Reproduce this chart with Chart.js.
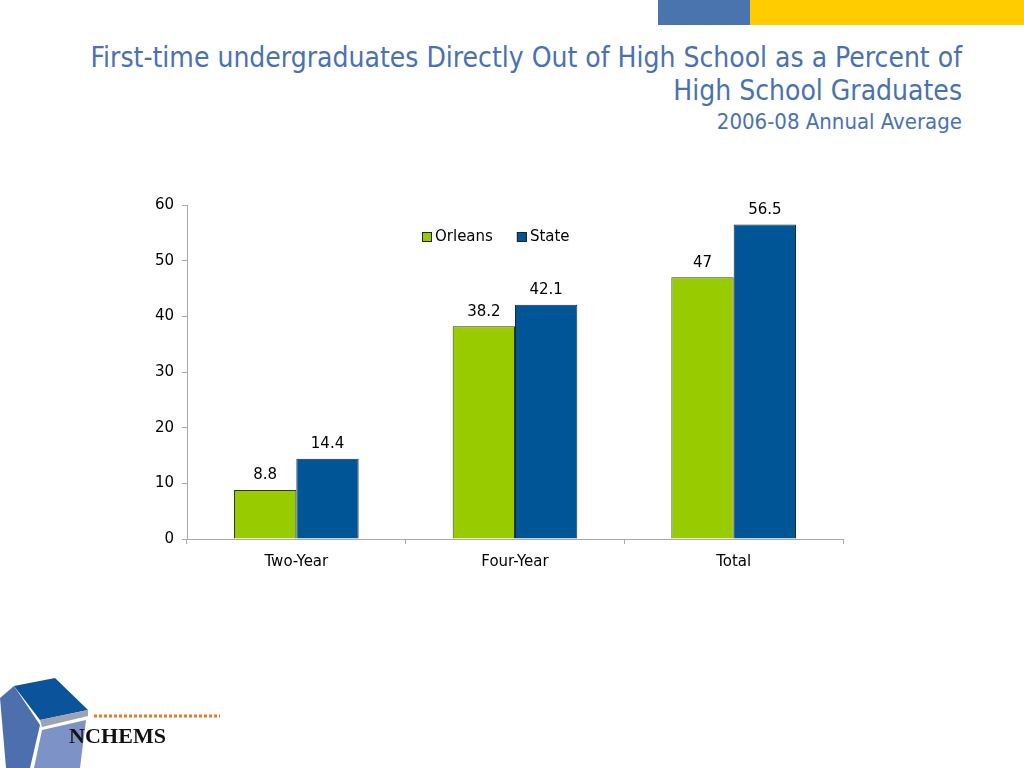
<!DOCTYPE html>
<html>
<head>
<meta charset="utf-8">
<script src="https://cdn.jsdelivr.net/npm/chart.js@4"></script>
<style>
    body { margin: 0; width: 1024px; height: 768px; background: #fff; position: relative; overflow: hidden; font-family: 'DejaVu Sans Condensed', 'DejaVu Sans', sans-serif; }
    .band-blue { position: absolute; left: 658px; top: 0; width: 92px; height: 25px; background: #4a74ae; }
    .band-yellow { position: absolute; left: 750px; top: 0; width: 274px; height: 25px; background: #ffcc00; }
    .title { position: absolute; right: 62px; top: 41px; text-align: right; color: #4a72b0; font-size: 28px; line-height: 33px; white-space: nowrap; }
    .subtitle { position: absolute; right: 62px; top: 109px; color: #4a72b0; font-size: 22px; white-space: nowrap; }
    #wrap { position: absolute; left: 0; top: 0; width: 1024px; height: 768px; }
    .logo { position: absolute; left: 0; top: 670px; }
</style>
</head>
<body>
<div class="band-blue"></div>
<div class="band-yellow"></div>
<div class="title">First-time undergraduates Directly Out of High School as a Percent of<br>High School Graduates</div>
<div class="subtitle">2006-08 Annual Average</div>
<div id="wrap"><canvas id="chart"></canvas></div>
<svg class="logo" width="240" height="98" viewBox="0 0 240 98">
    <polygon points="14,16 55,8 88,40 40,50" fill="#0b539a"/>
    <polygon points="40,50 88,40 88,46 42,57" fill="#9aa4b4"/>
    <polygon points="0,28 14,16 40,55 30,98 6,98" fill="#4d6fae"/>
    <polygon points="42,60 86,50 80,98 34,98" fill="#7d93c8"/>
    <line x1="94" y1="46" x2="220" y2="46" stroke="#e8782a" stroke-width="3" stroke-dasharray="3,2"/>
    <text x="69" y="73" font-family="'Liberation Serif', serif" font-weight="bold" font-size="22" fill="#111" textLength="97">NCHEMS</text>
</svg>
<script>
// Values
const categories = ['Two-Year', 'Four-Year', 'Total'];
const orleansValues = [8.8, 38.2, 47];
const stateValues = [14.4, 42.1, 56.5];
const yTicks = [0, 10, 20, 30, 40, 50, 60];

const labelFont = "'DejaVu Sans', sans-serif";

// Draw value labels above each bar
const valueLabels = {
    id: 'valueLabels',
    afterDatasetsDraw(chart) {
        const ctx = chart.ctx;
        ctx.save();
        ctx.font = '15px ' + labelFont;
        ctx.fillStyle = '#000';
        ctx.textAlign = 'center';
        ctx.textBaseline = 'bottom';
        chart.data.datasets.forEach((ds, i) => {
            chart.getDatasetMeta(i).data.forEach((bar, j) => {
                ctx.fillText(String(ds.data[j]), bar.x, bar.y - 7);
            });
        });
        ctx.restore();
    }
};

// Legend drawn inside the plot area, near the top
const innerLegend = {
    id: 'innerLegend',
    afterDraw(chart) {
        const ctx = chart.ctx;
        const area = chart.chartArea;
        ctx.save();
        ctx.font = '15px ' + labelFont;
        ctx.textBaseline = 'middle';
        ctx.textAlign = 'left';
        const y = area.top + 32;
        let x = area.left + 235;
        chart.data.datasets.forEach((ds) => {
            ctx.fillStyle = ds.backgroundColor;
            ctx.fillRect(x, y - 5, 10, 10);
            ctx.strokeStyle = '#222';
            ctx.lineWidth = 1;
            ctx.strokeRect(x + 0.5, y - 4.5, 9, 9);
            ctx.fillStyle = '#000';
            ctx.fillText(ds.label, x + 13, y);
            x += 13 + ctx.measureText(ds.label).width + 24;
        });
        ctx.restore();
    }
};

new Chart(document.getElementById('chart'), {
    type: 'bar',
    data: {
        labels: categories,
        datasets: [
            {
                label: 'Orleans',
                data: orleansValues,
                backgroundColor: '#99cc00',
                borderColor: '#2e3a10',
                borderWidth: 1,
                categoryPercentage: 0.57,
                barPercentage: 1
            },
            {
                label: 'State',
                data: stateValues,
                backgroundColor: '#005596',
                borderColor: '#1a2a3a',
                borderWidth: 1,
                categoryPercentage: 0.57,
                barPercentage: 1
            }
        ]
    },
    options: {
        responsive: true,
        maintainAspectRatio: false,
        animation: false,
        layout: { padding: { left: 147, right: 181, top: 205, bottom: 189 } },
        plugins: {
            legend: { display: false },
            tooltip: { enabled: false }
        },
        scales: {
            x: {
                grid: { display: true, drawOnChartArea: false, color: '#aaaaaa', tickLength: 5, offset: true },
                border: { color: '#aaaaaa' },
                ticks: { color: '#000', font: { family: labelFont, size: 15 }, padding: 9 },
                afterFit(scale) { scale.height = 40; }
            },
            y: {
                min: 0,
                max: 60,
                afterBuildTicks(scale) { scale.ticks = yTicks.map(v => ({ value: v })); },
                grid: { display: true, drawOnChartArea: false, color: '#aaaaaa', tickLength: 5 },
                border: { color: '#aaaaaa' },
                ticks: { color: '#000', font: { family: labelFont, size: 15 }, padding: 8 },
                afterFit(scale) { scale.width = 40; }
            }
        }
    },
    plugins: [valueLabels, innerLegend]
});
</script>
</body>
</html>
